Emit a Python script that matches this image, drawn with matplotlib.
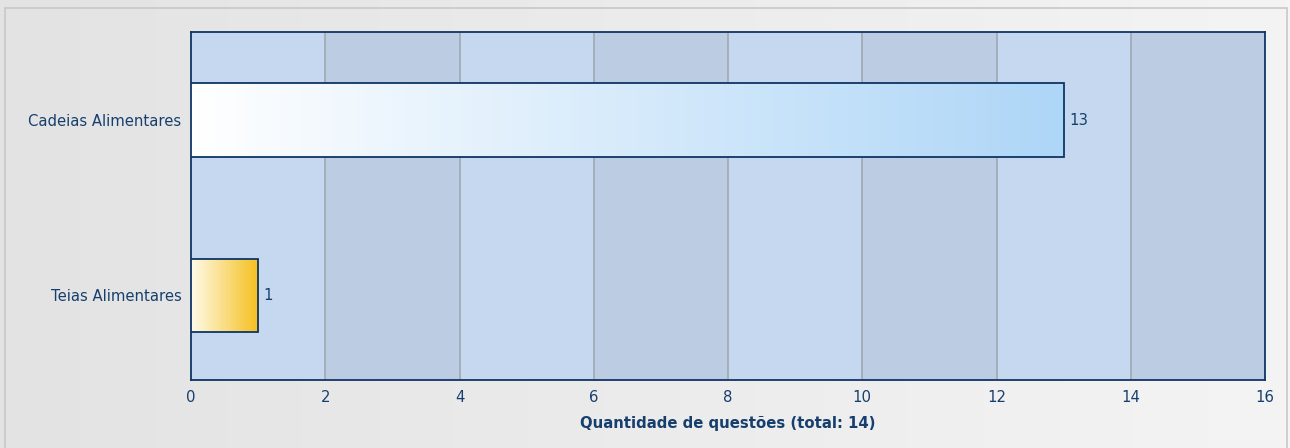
import numpy as np
import matplotlib
matplotlib.use("Agg")
import matplotlib.pyplot as plt
from matplotlib.colors import LinearSegmentedColormap
from matplotlib.patches import Rectangle

categories = ["Cadeias Alimentares", "Teias Alimentares"]
values = [13, 1]
bar_colors = [("#ffffff", "#aed6f7"), ("#fffbea", "#f5bf1c")]
xticks = [0, 2, 4, 6, 8, 10, 12, 14, 16]
xlabel = "Quantidade de questões (total: 14)"

text_color = "#163f6e"
edge_color = "#0f3564"
fs = 10.7

plt.rcParams['font.family'] = ['DejaVu Sans']
fig = plt.figure(figsize=(12.9, 4.48), dpi=100)

# figure background gradient
bg = fig.add_axes([0, 0, 1, 1], zorder=-10)
grad = np.linspace(0, 1, 256).reshape(1, -1)
bg_cmap = LinearSegmentedColormap.from_list("bg", ["#e3e3e3", "#f4f4f4"])
bg.imshow(grad, aspect="auto", cmap=bg_cmap, extent=[0, 1, 0, 1])
bg.add_patch(Rectangle((4.5 / 1290, -0.01), (1287 - 4.5) / 1290, 1.01 - 8.5 / 448,
                       fill=False, edgecolor="#c8c8c8", lw=1.2))
bg.set_xlim(0, 1); bg.set_ylim(0, 1)
bg.axis("off")

ax = fig.add_axes([191 / 1290, 1 - 380 / 448, (1265 - 191) / 1290, (380 - 32) / 448])
ylim = (1.482, -0.502)

# alternating bands
for i, x0 in enumerate(xticks[:-1]):
    ax.axvspan(x0, x0 + 2, color="#c6d8ef" if i % 2 == 0 else "#bccde3", zorder=0, lw=0)
for x in xticks[1:-1]:
    ax.axvline(x, color="#a0a8b4", lw=1.2, zorder=1)

ypos = np.arange(len(categories))
h = 0.42
bars = ax.barh(ypos, values, height=h, facecolor="none", edgecolor=edge_color, lw=1.3, zorder=4)
for b, (c0, c1), v, y in zip(bars, bar_colors, values, ypos):
    cm = LinearSegmentedColormap.from_list("g", [c0, c1])
    im = ax.imshow(grad, aspect="auto", cmap=cm,
                   extent=[0, v, y + h / 2, y - h / 2], zorder=3)
    im.set_clip_path(b)
    ax.text(v + 0.08, y, str(v), va="center", ha="left", color=text_color, fontsize=fs, zorder=5)

ax.set_xlim(0, 16)
ax.set_ylim(*ylim)
ax.set_yticks(ypos)
ax.set_yticklabels(categories, color=text_color, fontsize=fs)
ax.set_xticks(xticks)
ax.set_xticklabels([str(t) for t in xticks], color=text_color, fontsize=fs)
ax.tick_params(axis="both", length=0, pad=7)
ax.set_xlabel(xlabel, color=text_color, fontsize=fs, fontweight="bold", labelpad=8)
for s in ax.spines.values():
    s.set_color(edge_color)
    s.set_linewidth(1.3)

fig.savefig("out.png", dpi=100)
